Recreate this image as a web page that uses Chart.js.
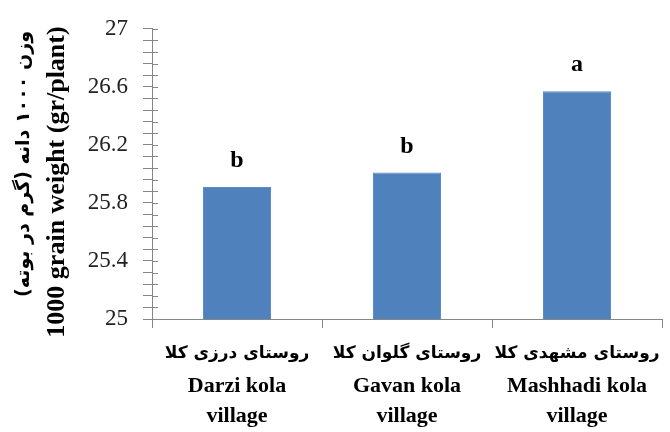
<!DOCTYPE html>
<html>
<head>
<meta charset="utf-8">
<script src="https://cdn.jsdelivr.net/npm/chart.js@4.4.1/dist/chart.umd.min.js"></script>
<style>
  html, body { margin: 0; padding: 0; background: #fff; }
  #wrap { width: 670px; height: 432px; }
</style>
</head>
<body>
<div id="wrap"><canvas id="grain-chart"></canvas></div>
<script>
// data
const villagesFa = ['روستای درزی کلا', 'روستای گلوان کلا', 'روستای مشهدی کلا'];
const villagesEn = ['Darzi kola', 'Gavan kola', 'Mashhadi kola'];
const weights = [25.91, 26.01, 26.57];
const groupLetters = ['b', 'b', 'a'];
const yTitleFa = 'وزن ۱۰۰۰ دانه (گرم در بوته)';
const yTitleEn = '1000 grain weight (gr/plant)';
const yMin = 25, yMax = 27, yMajor = 0.4, yMinor = 0.08;

const axisGray = '#868686';

// draws letters, the x labels, the y title and the inner half of the y ticks
const extrasPlugin = {
    id: 'extras',
    afterDraw(chart) {
        const ctx = chart.ctx;
        const x = chart.scales.x;
        const y = chart.scales.y;
        ctx.save();

        // inner part of the y tick marks
        ctx.strokeStyle = axisGray;
        ctx.lineWidth = 1;
        y.ticks.forEach(t => {
            const py = Math.round(y.getPixelForValue(t.value)) + 0.5;
            ctx.beginPath();
            ctx.moveTo(x.left, py);
            ctx.lineTo(x.left + 6, py);
            ctx.stroke();
        });

        // significance letters
        ctx.fillStyle = '#000';
        ctx.textAlign = 'center';
        ctx.textBaseline = 'middle';
        ctx.font = 'bold 24px "Liberation Serif"';
        const meta = chart.getDatasetMeta(0);
        meta.data.forEach((bar, i) => {
            ctx.fillText(groupLetters[i], bar.x, bar.y - 26);
        });

        // x labels
        villagesFa.forEach((fa, i) => {
            const px = x.getPixelForValue(i);
            ctx.font = 'bold 17px "DejaVu Sans"';
            ctx.direction = 'rtl';
            ctx.fillText(fa, px, 354);
            ctx.direction = 'ltr';
            ctx.font = 'bold 22px "Liberation Serif"';
            ctx.fillText(villagesEn[i], px, 386);
            ctx.fillText('village', px, 416);
        });

        // y title, two lines
        ctx.save();
        ctx.translate(24, 164);
        ctx.rotate(-Math.PI / 2);
        ctx.font = 'bold 19px "DejaVu Sans"';
        ctx.direction = 'rtl';
        ctx.fillText(yTitleFa, 0, 0);
        ctx.restore();
        ctx.save();
        ctx.translate(57, 182);
        ctx.rotate(-Math.PI / 2);
        ctx.font = 'bold 26px "Liberation Serif"';
        ctx.fillText(yTitleEn, 0, 0);
        ctx.restore();

        ctx.restore();
    }
};

new Chart(document.getElementById('grain-chart').getContext('2d'), {
    type: 'bar',
    data: {
        labels: villagesEn,
        datasets: [{
            data: weights,
            backgroundColor: '#4F81BD',
            borderColor: '#5B8CC6',
            borderWidth: 1,
            barPercentage: 0.4,
            categoryPercentage: 1.0
        }]
    },
    options: {
        responsive: true,
        maintainAspectRatio: false,
        animation: false,
        devicePixelRatio: 1,
        layout: { padding: { top: 25, right: 8, left: 0, bottom: 0 } },
        plugins: {
            legend: { display: false },
            tooltip: { enabled: false }
        },
        scales: {
            x: {
                grid: {
                    offset: true,
                    drawOnChartArea: false,
                    color: axisGray,
                    tickLength: 9
                },
                border: { color: axisGray, width: 1 },
                ticks: { display: false },
                afterFit(scale) { scale.height = 113; }
            },
            y: {
                min: yMin,
                max: yMax,
                grid: {
                    drawOnChartArea: false,
                    color: axisGray,
                    tickLength: 9
                },
                border: { color: axisGray, width: 1 },
                ticks: {
                    stepSize: yMinor,
                    autoSkip: false,
                    padding: 15,
                    color: '#222',
                    font: { family: '"Liberation Serif"', size: 23 },
                    callback: function (v) {
                        const k = (v - yMin) / yMajor;
                        if (Math.abs(k - Math.round(k)) < 1e-6) {
                            return String(Math.round(v * 10) / 10);
                        }
                        return '';
                    }
                },
                afterFit(scale) { scale.width = 152; }
            }
        }
    },
    plugins: [extrasPlugin]
});
</script>
</body>
</html>
